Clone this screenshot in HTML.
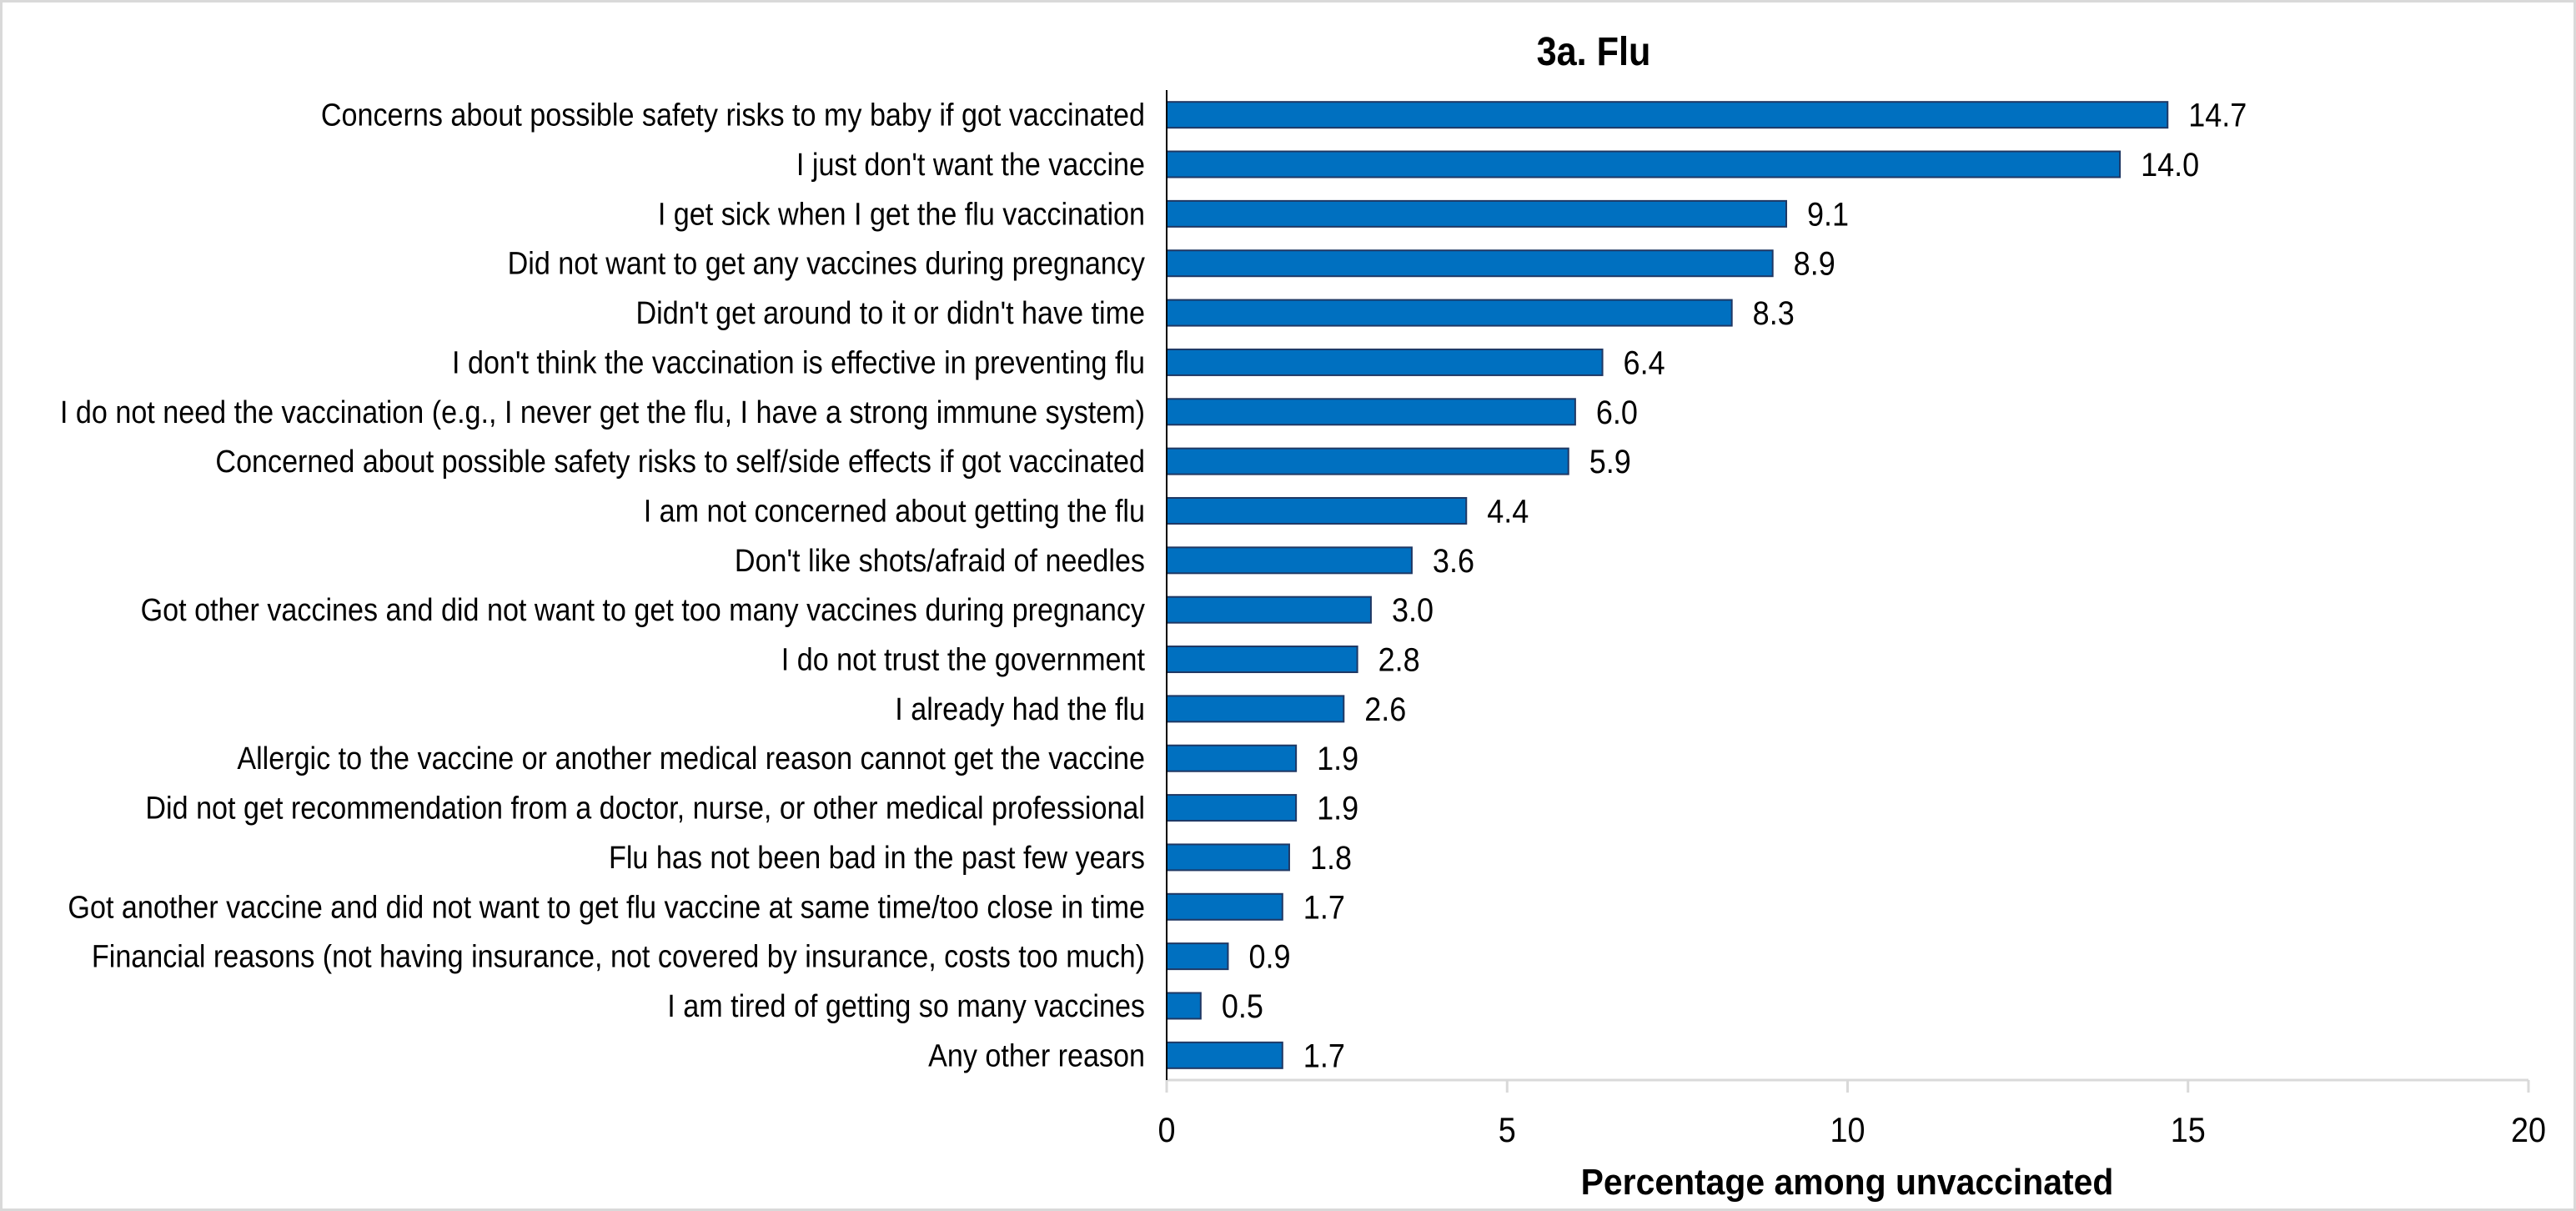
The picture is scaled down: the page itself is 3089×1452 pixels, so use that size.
<!DOCTYPE html>
<html><head><meta charset="utf-8"><style>
html,body{margin:0;padding:0;background:#fff;}
svg{display:block;}
text{font-family:"Liberation Sans",sans-serif;fill:#000;}
</style></head><body>
<svg id="chart" width="3089" height="1452" viewBox="0 0 3089 1452" xmlns="http://www.w3.org/2000/svg">
<rect x="1.5" y="1.5" width="3086" height="1449" fill="#fff" stroke="#d9d9d9" stroke-width="3"/>
<text x="1911" y="78" font-size="48" font-weight="bold" text-anchor="middle" transform="translate(1911 0) scale(0.9 1) translate(-1911 0)">3a. Flu</text>
<g id="bars"></g>
<g id="xaxis"></g>
<text x="2215" y="1432" font-size="44" font-weight="bold" text-anchor="middle" transform="translate(2215 0) scale(0.93 1) translate(-2215 0)">Percentage among unvaccinated</text>
</svg>
<script>
const categories = [
"Concerns about possible safety risks to my baby if got vaccinated",
"I just don't want the vaccine",
"I get sick when I get the flu vaccination",
"Did not want to get any vaccines during pregnancy",
"Didn't get around to it or didn't have time",
"I don't think the vaccination is effective in preventing flu",
"I do not need the vaccination (e.g., I never get the flu, I have a strong immune system)",
"Concerned about possible safety risks to self/side effects if got vaccinated",
"I am not concerned about getting the flu",
"Don't like shots/afraid of needles",
"Got other vaccines and did not want to get too many vaccines during pregnancy",
"I do not trust the government",
"I already had the flu",
"Allergic to the vaccine or another medical reason cannot get the vaccine",
"Did not get recommendation from a doctor, nurse, or other medical professional",
"Flu has not been bad in the past few years",
"Got another vaccine and did not want to get flu vaccine at same time/too close in time",
"Financial reasons (not having insurance, not covered by insurance, costs too much)",
"I am tired of getting so many vaccines",
"Any other reason"
];
const values = [14.7,14.0,9.1,8.9,8.3,6.4,6.0,5.9,4.4,3.6,3.0,2.8,2.6,1.9,1.9,1.8,1.7,0.9,0.5,1.7];
const xTicks = [0,5,10,15,20];

const NS="http://www.w3.org/2000/svg";
const x0=1399, x1=3032, xMax=20, yTop=108, yBot=1295;
const xs=v=>x0+(v/xMax)*(x1-x0);
const band=(yBot-yTop)/categories.length;
const yc=i=>yTop+band*(i+0.5);
const barH=31, sx=0.9;
function mk(tag,attrs,parent){const e=document.createElementNS(NS,tag);for(const k in attrs)e.setAttribute(k,attrs[k]);parent.appendChild(e);return e;}
const gb=document.getElementById('bars'), gx=document.getElementById('xaxis');
categories.forEach((c,i)=>{
  const y=yc(i);
  const r=mk('rect',{x:xs(0),y:y-barH/2,width:xs(values[i])-xs(0),height:barH,fill:'#0070c0',stroke:'#1f3864','stroke-width':2},gb);
  
  
  const lx=1373;
  const t=mk('text',{x:lx,y:y+13,'font-size':38,'text-anchor':'end',transform:`translate(${lx} 0) scale(0.898 1) translate(${-lx} 0)`},gb);
  t.textContent=c;
  
  
  const vx=xs(values[i])+25;
  const v=mk('text',{x:vx,y:y+14,'font-size':40,transform:`translate(${vx} 0) scale(${sx} 1) translate(${-vx} 0)`},gb);
  v.textContent=values[i].toFixed(1);
  
  
});
const ax=mk('line',{x1:x0,y1:yBot,x2:x1,y2:yBot,stroke:'#d9d9d9','stroke-width':3},gx);


const ay=mk('line',{x1:x0,y1:yTop,x2:x0,y2:yBot,stroke:'#000','stroke-width':2},gx);


xTicks.forEach(t=>{
  const x=xs(t);
  const tk=mk('line',{x1:x,y1:yBot,x2:x,y2:yBot+15,stroke:'#d9d9d9','stroke-width':3},gx);
  
  
  const tl=mk('text',{x:x,y:1369,'font-size':42,'text-anchor':'middle',transform:`translate(${x} 0) scale(${sx} 1) translate(${-x} 0)`},gx);
  tl.textContent=t;
  
  
});
</script>
</body></html>
